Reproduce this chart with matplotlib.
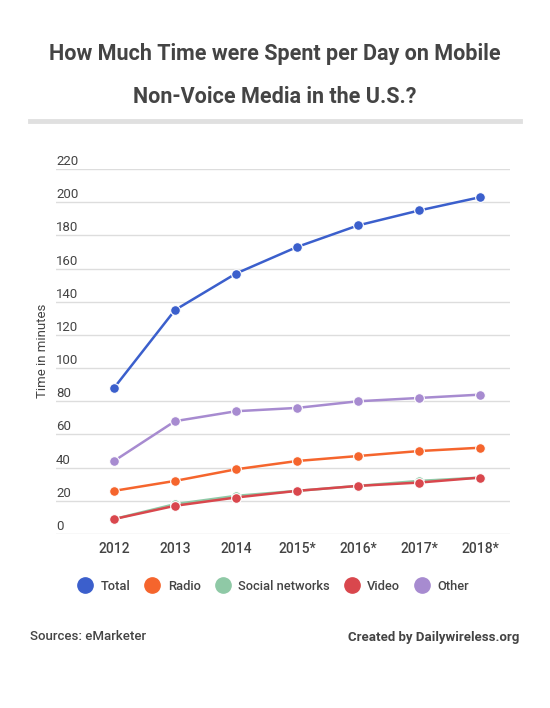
import matplotlib
matplotlib.use("Agg")
import matplotlib.pyplot as plt
from matplotlib.lines import Line2D

plt.rcParams['font.family'] = ['Roboto', 'DejaVu Sans']

years = ["2012", "2013", "2014", "2015*", "2016*", "2017*", "2018*"]
total = [88, 135, 157, 173, 186, 195, 203]
radio = [26, 32, 39, 44, 47, 50, 52]
social = [9, 18, 23, 26, 29, 32, 34]
video = [9, 17, 22, 26, 29, 31, 34]
other = [44, 68, 74, 76, 80, 82, 84]
yticks = [0, 20, 40, 60, 80, 100, 120, 140, 160, 180, 200, 220]

series = [
    ("Total", total, "#3b5fcc"),
    ("Radio", radio, "#f5652d"),
    ("Social networks", social, "#8fc9a6"),
    ("Video", video, "#d9474d"),
    ("Other", other, "#a78bd0"),
]

W, H = 550, 708
fig = plt.figure(figsize=(W / 100, H / 100), dpi=100)
ax = fig.add_axes([56 / W, (H - 534) / H, (510 - 56) / W, (534 - 169) / H])

x = list(range(len(years)))
draw_order = ["Other", "Radio", "Social networks", "Video", "Total"]
lookup = {n: (v, c) for n, v, c in series}
for i, name in enumerate(draw_order):
    vals, col = lookup[name]
    ax.plot(x, vals, color=col, lw=1.8, marker="o", ms=7, mec="white", mew=0.8,
            zorder=3 + i)

ax.set_xlim(-0.95, 6.49)
ax.set_ylim(0, 220)
ax.set_yticks(yticks)
ax.yaxis.grid(True, color="#dddddd", lw=1)
ax.set_axisbelow(True)
ax.tick_params(axis="y", length=0, labelleft=False)
for t in yticks:
    ax.text(0.0, t + 0.6, str(t), transform=ax.get_yaxis_transform(),
            ha="left", va="bottom", fontsize=9.5, color="#444444")
ax.set_xticks(x)
ax.set_xticklabels(years, fontsize=10, color="#444444", fontweight="medium")
ax.tick_params(axis="x", length=0, pad=6)
for s in ax.spines.values():
    s.set_visible(False)

fig.text(42 / W, (H - 351) / H, "Time in minutes", rotation=90, ha="center",
         va="center", fontsize=9.5, color="#444444")

fig.text(0.5, (H - 54) / H, "How Much Time were Spent per Day on Mobile",
         ha="center", va="center", fontsize=15.5, fontweight="bold", color="#444444")
fig.text(0.5, (H - 97) / H, "Non-Voice Media in the U.S.?",
         ha="center", va="center", fontsize=15.5, fontweight="bold", color="#444444")
fig.add_artist(Line2D([30 / W, 520 / W], [(H - 121) / H] * 2, color="#e0e0e0", lw=3.5))

handles = [Line2D([], [], ls="none", marker="o", ms=11, color=c, mec=c) for _, _, c in series]
fig.legend(handles, [n for n, _, _ in series], loc="center", ncol=5,
           bbox_to_anchor=(272 / W, (H - 586) / H), frameon=False,
           handletextpad=0.4, columnspacing=0.9, handlelength=1.6,
           labelcolor="#444444", prop={"weight": "medium", "size": 9.3})

fig.text(30 / W, (H - 637) / H, "Sources: eMarketer", ha="left", va="center",
         fontsize=9.5, color="#444444", fontweight="medium")
fig.text(519 / W, (H - 637) / H, "Created by Dailywireless.org", ha="right",
         va="center", fontsize=9.5, color="#444444", fontweight="bold")

fig.savefig("out.png", dpi=100, facecolor="white")
